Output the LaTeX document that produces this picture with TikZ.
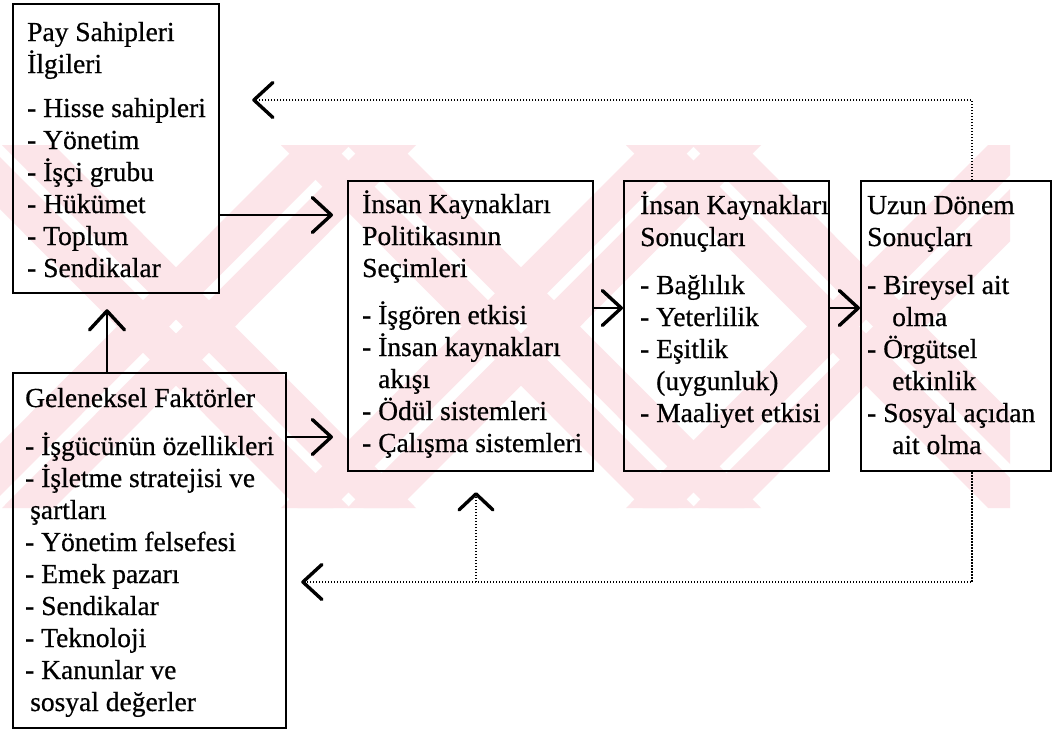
\documentclass[tikz,border=0pt]{standalone}
\usepackage{fontspec}
\setmainfont{Liberation Serif}
\newfontfamily\printfont{Liberation Serif}[FakeBold=0.6]
\usetikzlibrary{arrows.meta,calc}

\definecolor{markpink}{RGB}{252,229,233}

\tikzset{
  panel/.style={draw, line width=2.2pt, inner sep=0pt, anchor=north west},
  txt/.style={anchor=base west, align=left, inner sep=0pt,
              font=\printfont\fontsize{27.5}{32}\selectfont},
  chev/.style={-{Straight Barb[round,length=19pt,width=35pt,line width=3.4pt]}},
  flow/.style={chev, line width=2.2pt},
  fb/.style={chev, line width=1.3pt, dash pattern=on 1.3pt off 1.7pt},
}

\begin{document}
\begin{tikzpicture}[x=1pt,y=-1pt]
\useasboundingbox (0,0) rectangle (1053,729);
\fill[white] (0,0) rectangle (1053,729);

% pale striped background band
\begin{scope}
  \clip (0,145) rectangle (1010,508);
  \foreach \cx in {175,520,865}{
    \foreach \o in {-58,8}{
      \fill[markpink] (\cx-181+\o,145) -- ++(52,0) -- (\cx+181+\o+52,508) -- ++(-52,0) -- cycle;
      \fill[markpink] (\cx+181+\o,145) -- ++(52,0) -- (\cx-181+\o+52,508) -- ++(-52,0) -- cycle;
    }
  }
\end{scope}

% frames
\node[panel, minimum width=206pt, minimum height=289pt] (boxA) at (12,3) {};
\node[panel, minimum width=273pt, minimum height=355pt] (boxB) at (12,372) {};
\node[panel, minimum width=245pt, minimum height=290pt] (boxC) at (347,180) {};
\node[panel, minimum width=205pt, minimum height=290pt] (boxD) at (623,180) {};
\node[panel, minimum width=190pt, minimum height=290pt] (boxE) at (860,180) {};

% texts (each placed by the baseline of its last line)
\node[txt] (textA) at (27,277) {Pay Sahipleri\\
İlgileri\\[12pt]
- Hisse sahipleri\\
- Yönetim\\
- İşçi grubu\\
- Hükümet\\
- Toplum\\
- Sendikalar};

\node[txt] (textB) at (25,711) {Geleneksel Faktörler\\[16pt]
- İşgücünün özellikleri\\
- İşletme stratejisi ve\\
\hspace*{5pt}şartları\\
- Yönetim felsefesi\\
- Emek pazarı\\
- Sendikalar\\
- Teknoloji\\
- Kanunlar ve\\
\hspace*{5pt}sosyal değerler};

\node[txt] (textC) at (362,452) {İnsan Kaynakları\\
Politikasının\\
Seçimleri\\[15pt]
- İşgören etkisi\\
- İnsan kaynakları\\
\hspace*{16pt}akışı\\
- Ödül sistemleri\\
- Çalışma sistemleri};

\node[txt] (textD) at (640,422) {İnsan Kaynakları\\
Sonuçları\\[16pt]
- Bağlılık\\
- Yeterlilik\\
- Eşitlik\\
\hspace*{16pt}(uygunluk)\\
- Maaliyet etkisi};

\node[txt] (textE) at (867,454) {Uzun Dönem\\
Sonuçları\\[16pt]
- Bireysel ait\\
\hspace*{25pt}olma\\
- Örgütsel\\
\hspace*{25pt}etkinlik\\
- Sosyal açıdan\\
\hspace*{25pt}ait olma};

% levels of the connectors
\coordinate (yAC) at (0,215);
\coordinate (yBC) at (0,437);
\coordinate (yCD) at (0,308);
\coordinate (xBA) at (107,0);
\coordinate (xFB) at (972,0);
\coordinate (xUp) at (476,0);
\coordinate (yTop) at (0,100);
\coordinate (yBot) at (0,582);

% forward flow
\draw[flow, shorten >=14pt] (boxA.east |- yAC) -- (boxC.west |- yAC);
\draw[flow, shorten >=14pt] (boxB.east |- yBC) -- (boxC.west |- yBC);
\draw[flow, shorten >=15pt] (boxB.north -| xBA) -- (boxA.south -| xBA);
\draw[flow] (boxC.east |- yCD) -- (boxD.west |- yCD);
\draw[flow] (boxD.east |- yCD) -- (boxE.west |- yCD);

% feedback loops
\draw[fb, shorten >=32pt] (boxE.north -| xFB) |- (boxA.east |- yTop);
\draw[fb, shorten >=14pt] (boxE.south -| xFB) |- (boxB.east |- yBot);
\coordinate (fbJoin) at (xUp |- yBot);
\draw[fb, shorten >=20pt, -{Straight Barb[round,length=16pt,width=34pt,line width=3.4pt]}]
  (fbJoin) -- (boxC.south -| xUp);
\end{tikzpicture}
\end{document}
